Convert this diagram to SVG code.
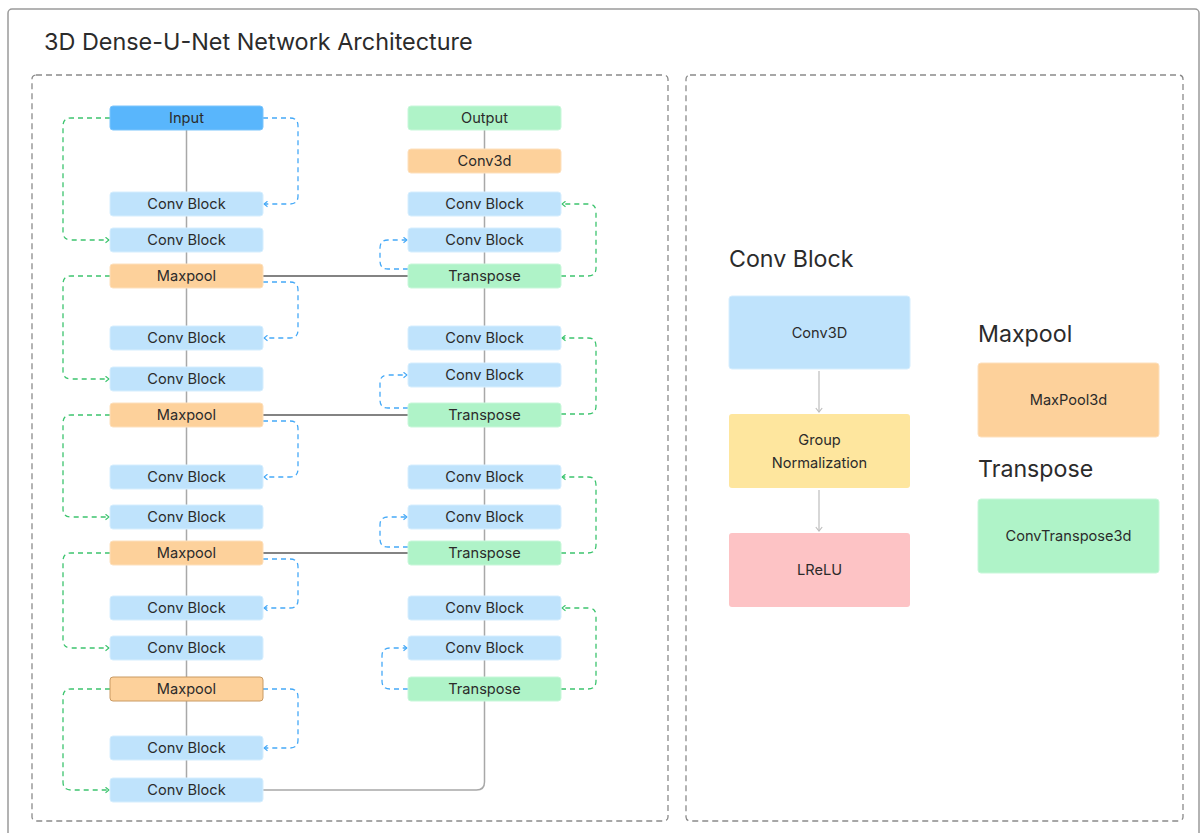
<svg xmlns="http://www.w3.org/2000/svg" width="1202" height="833" viewBox="0 0 1202 833">
  <defs>
    <style>
      text { font-family: Inter, "Noto Sans", "Liberation Sans", sans-serif; fill: #2b2b2b; }
      .title { font-size: 23.4px; }
      .head { font-size: 23.2px; }
      .lbl { font-size: 14.6px; text-anchor: middle; dominant-baseline: central; }
      .frame { fill: #fff; stroke: #9a9a9a; stroke-width: 1.5; }
      .panel { fill: none; stroke: #8a8a8a; stroke-width: 1.3; stroke-dasharray: 6 4; }
      .cb { fill: #bfe3fc; stroke: #d6eefe; stroke-width: 1; }
      .mp { fill: #fdd19b; stroke: #fde0bd; stroke-width: 1; }
      .tr { fill: #aff3c8; stroke: #c8f7da; stroke-width: 1; }
      .in { fill: #59b6fc; stroke: #7cc5fc; stroke-width: 1; }
      .gn { fill: #fee69e; }
      .lr { fill: #fdc3c5; }
      .spine { fill: none; stroke: #a8a8a8; stroke-width: 1.5; }
      .bridge { fill: none; stroke: #5a5a5a; stroke-width: 1.5; }
      .skipg { fill: none; stroke: #3cc46e; stroke-width: 1.3; stroke-dasharray: 5 4; marker-end: url(#arrG); }
      .skipb { fill: none; stroke: #45a9f7; stroke-width: 1.3; stroke-dasharray: 5 4; marker-end: url(#arrB); }
      .flow { fill: none; stroke: #bdbdbd; stroke-width: 1.2; marker-end: url(#arrK); }
    </style>
    <marker id="arrG" viewBox="0 0 10 10" refX="8" refY="5" markerWidth="7" markerHeight="7" markerUnits="userSpaceOnUse" orient="auto">
      <path d="M3,1 L8,5 L3,9" fill="none" stroke="#3cc46e" stroke-width="1.6"/>
    </marker>
    <marker id="arrB" viewBox="0 0 10 10" refX="8" refY="5" markerWidth="7" markerHeight="7" markerUnits="userSpaceOnUse" orient="auto">
      <path d="M3,1 L8,5 L3,9" fill="none" stroke="#45a9f7" stroke-width="1.6"/>
    </marker>
    <marker id="arrK" viewBox="0 0 10 10" refX="8" refY="5" markerWidth="8" markerHeight="8" markerUnits="userSpaceOnUse" orient="auto">
      <path d="M3,1 L8,5 L3,9" fill="none" stroke="#bdbdbd" stroke-width="1.4"/>
    </marker>
  </defs>

  <rect x="0" y="0" width="1202" height="833" fill="#fff"/>
  <rect class="frame" x="8" y="9" width="1191" height="840" rx="4"/>
  <text class="title" x="44" y="50">3D Dense-U-Net Network Architecture</text>

  <rect class="panel" x="32" y="75" width="636" height="746" rx="4"/>
  <rect class="panel" x="686" y="75" width="497" height="746" rx="4"/>

  <!-- connectors -->
  <g id="connectors">
    <!-- backbone lines -->
    <path class="spine" d="M186.5,130 V778"/>
    <path class="spine" d="M484.5,130 V782 Q484.5,790 476.5,790 H263"/>
    <!-- encoder to decoder bridges -->
    <path class="bridge" d="M263,276 H408"/>
    <path class="bridge" d="M263,415 H408"/>
    <path class="bridge" d="M263,553 H408"/>

    <!-- encoder dense skips (green, left side) -->
    <path class="skipg" d="M110,118 H71 Q63,118 63,126 V232 Q63,240 71,240 H109"/>
    <path class="skipg" d="M110,276 H71 Q63,276 63,284 V371 Q63,379 71,379 H109"/>
    <path class="skipg" d="M110,415 H71 Q63,415 63,423 V509 Q63,517 71,517 H109"/>
    <path class="skipg" d="M110,553 H71 Q63,553 63,561 V640 Q63,648 71,648 H109"/>
    <path class="skipg" d="M110,689 H71 Q63,689 63,697 V782 Q63,790 71,790 H109"/>

    <!-- encoder dense skips (blue, right side) -->
    <path class="skipb" d="M263,118 H290 Q298,118 298,126 V196 Q298,204 290,204 H264"/>
    <path class="skipb" d="M263,282 H290 Q298,282 298,290 V330 Q298,338 290,338 H264"/>
    <path class="skipb" d="M263,421 H290 Q298,421 298,429 V469 Q298,477 290,477 H264"/>
    <path class="skipb" d="M263,559 H290 Q298,559 298,567 V600 Q298,608 290,608 H264"/>
    <path class="skipb" d="M263,689 H290 Q298,689 298,697 V740 Q298,748 290,748 H264"/>

    <!-- decoder skips (green, right side) -->
    <path class="skipg" d="M561,276 H588 Q596,276 596,268 V212 Q596,204 588,204 H562"/>
    <path class="skipg" d="M561,414 H588 Q596,414 596,406 V346 Q596,338 588,338 H562"/>
    <path class="skipg" d="M561,553 H588 Q596,553 596,545 V485 Q596,477 588,477 H562"/>
    <path class="skipg" d="M561,689 H588 Q596,689 596,681 V616 Q596,608 588,608 H562"/>

    <!-- decoder skips (blue, left side) -->
    <path class="skipb" d="M408,269 H388 Q380,269 380,261 V248 Q380,240 388,240 H407"/>
    <path class="skipb" d="M408,408 H388 Q380,408 380,400 V383 Q380,375 388,375 H407"/>
    <path class="skipb" d="M408,547 H388 Q380,547 380,539 V525 Q380,517 388,517 H407"/>
    <path class="skipb" d="M408,689 H390 Q382,689 382,681 V656 Q382,648 390,648 H407"/>

    <!-- conv block internals -->
    <path class="flow" d="M819,371 V412"/>
    <path class="flow" d="M819,490 V531"/>
  </g>

  <!-- encoder column -->
  <g id="enc-input"><rect class="in" x="110" y="106" width="153" height="24" rx="3"/><text class="lbl" x="186.5" y="118">Input</text></g>
  <g id="enc-cb1"><rect class="cb" x="110" y="192" width="153" height="24" rx="3"/><text class="lbl" x="186.5" y="204">Conv Block</text></g>
  <g id="enc-cb2"><rect class="cb" x="110" y="228" width="153" height="24" rx="3"/><text class="lbl" x="186.5" y="240">Conv Block</text></g>
  <g id="enc-mp1"><rect class="mp" x="110" y="264" width="153" height="24" rx="3"/><text class="lbl" x="186.5" y="276">Maxpool</text></g>
  <g id="enc-cb3"><rect class="cb" x="110" y="326" width="153" height="24" rx="3"/><text class="lbl" x="186.5" y="338">Conv Block</text></g>
  <g id="enc-cb4"><rect class="cb" x="110" y="367" width="153" height="24" rx="3"/><text class="lbl" x="186.5" y="379">Conv Block</text></g>
  <g id="enc-mp2"><rect class="mp" x="110" y="403" width="153" height="24" rx="3"/><text class="lbl" x="186.5" y="415">Maxpool</text></g>
  <g id="enc-cb5"><rect class="cb" x="110" y="465" width="153" height="24" rx="3"/><text class="lbl" x="186.5" y="477">Conv Block</text></g>
  <g id="enc-cb6"><rect class="cb" x="110" y="505" width="153" height="24" rx="3"/><text class="lbl" x="186.5" y="517">Conv Block</text></g>
  <g id="enc-mp3"><rect class="mp" x="110" y="541" width="153" height="24" rx="3"/><text class="lbl" x="186.5" y="553">Maxpool</text></g>
  <g id="enc-cb7"><rect class="cb" x="110" y="596" width="153" height="24" rx="3"/><text class="lbl" x="186.5" y="608">Conv Block</text></g>
  <g id="enc-cb8"><rect class="cb" x="110" y="636" width="153" height="24" rx="3"/><text class="lbl" x="186.5" y="648">Conv Block</text></g>
  <g id="enc-mp4"><rect class="mp" x="110" y="677" width="153" height="24" rx="3" style="stroke:#c99a63"/><text class="lbl" x="186.5" y="689">Maxpool</text></g>
  <g id="enc-cb9"><rect class="cb" x="110" y="736" width="153" height="24" rx="3"/><text class="lbl" x="186.5" y="748">Conv Block</text></g>
  <g id="enc-cb10"><rect class="cb" x="110" y="778" width="153" height="24" rx="3"/><text class="lbl" x="186.5" y="790">Conv Block</text></g>

  <!-- decoder column -->
  <g id="dec-output"><rect class="tr" x="408" y="106" width="153" height="24" rx="3"/><text class="lbl" x="484.5" y="118">Output</text></g>
  <g id="dec-conv3d"><rect class="mp" x="408" y="149" width="153" height="24" rx="3"/><text class="lbl" x="484.5" y="161">Conv3d</text></g>
  <g id="dec-cb1"><rect class="cb" x="408" y="192" width="153" height="24" rx="3"/><text class="lbl" x="484.5" y="204">Conv Block</text></g>
  <g id="dec-cb2"><rect class="cb" x="408" y="228" width="153" height="24" rx="3"/><text class="lbl" x="484.5" y="240">Conv Block</text></g>
  <g id="dec-tr1"><rect class="tr" x="408" y="264" width="153" height="24" rx="3"/><text class="lbl" x="484.5" y="276">Transpose</text></g>
  <g id="dec-cb3"><rect class="cb" x="408" y="326" width="153" height="24" rx="3"/><text class="lbl" x="484.5" y="338">Conv Block</text></g>
  <g id="dec-cb4"><rect class="cb" x="408" y="363" width="153" height="24" rx="3"/><text class="lbl" x="484.5" y="375">Conv Block</text></g>
  <g id="dec-tr2"><rect class="tr" x="408" y="403" width="153" height="24" rx="3"/><text class="lbl" x="484.5" y="415">Transpose</text></g>
  <g id="dec-cb5"><rect class="cb" x="408" y="465" width="153" height="24" rx="3"/><text class="lbl" x="484.5" y="477">Conv Block</text></g>
  <g id="dec-cb6"><rect class="cb" x="408" y="505" width="153" height="24" rx="3"/><text class="lbl" x="484.5" y="517">Conv Block</text></g>
  <g id="dec-tr3"><rect class="tr" x="408" y="541" width="153" height="24" rx="3"/><text class="lbl" x="484.5" y="553">Transpose</text></g>
  <g id="dec-cb7"><rect class="cb" x="408" y="596" width="153" height="24" rx="3"/><text class="lbl" x="484.5" y="608">Conv Block</text></g>
  <g id="dec-cb8"><rect class="cb" x="408" y="636" width="153" height="24" rx="3"/><text class="lbl" x="484.5" y="648">Conv Block</text></g>
  <g id="dec-tr4"><rect class="tr" x="408" y="677" width="153" height="24" rx="3"/><text class="lbl" x="484.5" y="689">Transpose</text></g>

  <!-- legend: conv block -->
  <g id="legend-convblock">
    <text class="head" x="729" y="267">Conv Block</text>
  </g>
  <g id="cb-conv3d"><rect class="cb" x="729" y="296" width="181" height="73" rx="3"/><text class="lbl" x="819.5" y="332.5">Conv3D</text></g>
  <g id="cb-groupnorm"><rect class="gn" x="729" y="414" width="181" height="74" rx="3"/><text class="lbl" x="819.5" y="440">Group</text><text class="lbl" x="819.5" y="463">Normalization</text></g>
  <g id="cb-lrelu"><rect class="lr" x="729" y="533" width="181" height="74" rx="3"/><text class="lbl" x="819.5" y="570">LReLU</text></g>

  <!-- legend: maxpool -->
  <g id="legend-maxpool">
    <text class="head" x="978" y="342">Maxpool</text>
    <rect class="mp" x="978" y="363" width="181" height="74" rx="3"/><text class="lbl" x="1068.5" y="400">MaxPool3d</text>
  </g>
  <!-- legend: transpose -->
  <g id="legend-transpose">
    <text class="head" x="978" y="477">Transpose</text>
    <rect class="tr" x="978" y="499" width="181" height="74" rx="3"/><text class="lbl" x="1068.5" y="536">ConvTranspose3d</text>
  </g>
</svg>
